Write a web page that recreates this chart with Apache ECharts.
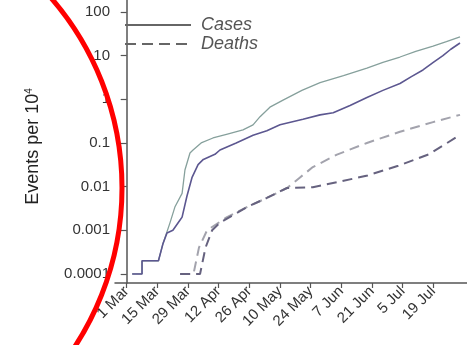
<!DOCTYPE html>
<html>
<head>
<meta charset="utf-8">
<script src="https://cdn.jsdelivr.net/npm/echarts@6/dist/echarts.min.js"></script>
<style>
html,body{margin:0;padding:0;background:#fff;}
#chart{width:467px;height:345px;}
</style>
</head>
<body>
<div id="chart"></div>
<script>
// X ticks: days since 1 Mar
var tickDays = [0, 14, 28, 42, 56, 70, 84, 98, 112, 126, 140];
var tickLabels = ['1 Mar', '15 Mar', '29 Mar', '12 Apr', '26 Apr', '10 May', '24 May', '7 Jun', '21 Jun', '5 Jul', '19 Jul'];
// Y ticks
var yTickValues = [0.0001, 0.001, 0.01, 0.1, 1, 10, 100];
var yTickLabels = ['0.0001', '0.001', '0.01', '0.1', '1', '10', '100'];

// Cases, region A (purple, lower solid)
var casesADays = [2.5, 7, 7, 14.5, 16.6, 18.4, 21.1, 24.3, 25.3, 27.5, 29.8, 32.6, 35, 40.3, 42.6, 50, 57.7, 64, 70, 80.5, 88.3, 94.3, 102, 109.7, 117, 124.8, 130, 135.3, 140, 144.4, 148, 152.2];
var casesAVals = [0.0001, 0.0001, 0.0002, 0.0002, 0.0005, 0.00087, 0.001, 0.0017, 0.002, 0.006, 0.016, 0.032, 0.042, 0.055, 0.069, 0.1, 0.15, 0.19, 0.26, 0.35, 0.44, 0.49, 0.72, 1.1, 1.6, 2.3, 3.3, 4.7, 7, 10, 14, 19.5];
// Cases, region B (teal, upper solid)
var casesBDays = [2.5, 7, 7, 14.5, 16.6, 19.8, 22, 25.3, 26.6, 28.9, 30.3, 34, 39.4, 46, 53.1, 57.7, 60.9, 65.4, 71.4, 80, 88.3, 99, 109.7, 117, 124.8, 132, 139.9, 146, 152.2];
var casesBVals = [0.0001, 0.0001, 0.0002, 0.0002, 0.0005, 0.0015, 0.0034, 0.007, 0.024, 0.059, 0.069, 0.1, 0.13, 0.16, 0.2, 0.26, 0.4, 0.66, 0.96, 1.6, 2.4, 3.5, 5.2, 7, 9.3, 12.5, 16.6, 21, 27];
// Deaths, region A (purple dashed, lower)
var deathsADays = [24.4, 33.5, 36, 39, 42.6, 54.9, 64, 73.2, 85, 97.4, 110, 124, 138, 152];
var deathsAVals = [0.0001, 0.0001, 0.0004, 0.001, 0.0015, 0.0034, 0.0055, 0.0093, 0.0097, 0.013, 0.018, 0.03, 0.055, 0.15];
// Deaths, region B (gray-teal dashed, upper)
var deathsBDays = [24.4, 30.5, 33, 36.7, 45.8, 54.9, 64, 73.2, 79, 85, 96, 109.7, 124.8, 139.9, 152.2];
var deathsBVals = [0.0001, 0.0001, 0.0004, 0.001, 0.002, 0.0034, 0.0055, 0.0093, 0.016, 0.028, 0.054, 0.10, 0.18, 0.30, 0.44];

function pairs(xs, ys) { return xs.map(function (x, i) { return [x, ys[i]]; }); }

var chart = echarts.init(document.getElementById('chart'), null, {renderer: 'canvas'});
var font = 'Liberation Sans, Arial, sans-serif';
chart.setOption({
  animation: false,
  backgroundColor: '#ffffff',
  textStyle: {fontFamily: font},
  grid: {left: 115, right: 0, top: 0, bottom: 62, containLabel: false},
  legend: {
    left: 119, top: 11, orient: 'vertical', itemWidth: 66, itemHeight: 14, itemGap: 1,
    data: ['Cases', 'Deaths'],
    itemStyle: {opacity: 0},
    textStyle: {fontFamily: font, fontStyle: 'italic', fontSize: 18, color: '#555', padding: [0, 0, 0, 5]},
    selectedMode: false
  },
  xAxis: {
    type: 'value', min: -5.34, max: 155.4,
    axisLine: {lineStyle: {color: '#555', width: 1.5}},
    axisTick: {customValues: tickDays, length: 5, lineStyle: {color: '#555', width: 1.2}},
    axisLabel: {
      customValues: tickDays, rotate: 45, fontSize: 15, color: '#333', margin: 6, fontFamily: font,
      formatter: function (v) { var i = tickDays.indexOf(Math.round(v)); return i >= 0 ? tickLabels[i] : ''; }
    },
    splitLine: {show: false}
  },
  yAxis: {
    type: 'log', logBase: 10, min: 0.000062, max: 188,
    name: 'Events per 10{sup|4}', nameLocation: 'middle', nameGap: 72,
    nameTextStyle: {fontSize: 18, color: '#222', fontFamily: font, padding: [0, 10, 0, 0], rich: {sup: {fontSize: 10, verticalAlign: 'top', padding: [0, 0, 9, 0], color: '#222'}}},
    axisLine: {show: true, lineStyle: {color: '#555', width: 1.5}},
    axisTick: {customValues: yTickValues, length: 6, lineStyle: {color: '#555', width: 1.2}},
    axisLabel: {
      customValues: yTickValues, fontSize: 15, color: '#333', margin: 5, fontFamily: font,
      formatter: function (v) {
        var i = yTickValues.findIndex(function (t) { return Math.abs(Math.log10(t) - Math.log10(v)) < 0.01; });
        return i >= 0 ? yTickLabels[i] : String(v);
      }
    },
    splitLine: {show: false}
  },
  series: [
    {name: 'Cases', type: 'line', data: [], symbol: 'none', lineStyle: {color: '#666', width: 1.5, type: 'solid'}, itemStyle: {color: '#666'}},
    {name: 'Deaths', type: 'line', data: [], symbol: 'none', lineStyle: {color: '#666', width: 1.5, type: [11, 6]}, itemStyle: {color: '#666'}},
    {name: 'Deaths B', type: 'line', data: pairs(deathsBDays, deathsBVals), symbol: 'none', lineStyle: {color: '#a3a3ad', width: 2, type: [10, 6]}},
    {name: 'Deaths A', type: 'line', data: pairs(deathsADays, deathsAVals), symbol: 'none', lineStyle: {color: '#66627f', width: 2, type: [10, 6]}},
    {name: 'Cases B', type: 'line', data: pairs(casesBDays, casesBVals), symbol: 'none', lineStyle: {color: '#86a09c', width: 1.3}},
    {name: 'Cases A', type: 'line', data: pairs(casesADays, casesAVals), symbol: 'none', lineStyle: {color: '#5c5790', width: 1.6}}
  ],
  graphic: [
    {type: 'circle', shape: {cx: -168, cy: 188, r: 290}, style: {fill: 'none', stroke: '#ff0000', lineWidth: 5}, z: 100, silent: true}
  ]
});
</script>
</body>
</html>
